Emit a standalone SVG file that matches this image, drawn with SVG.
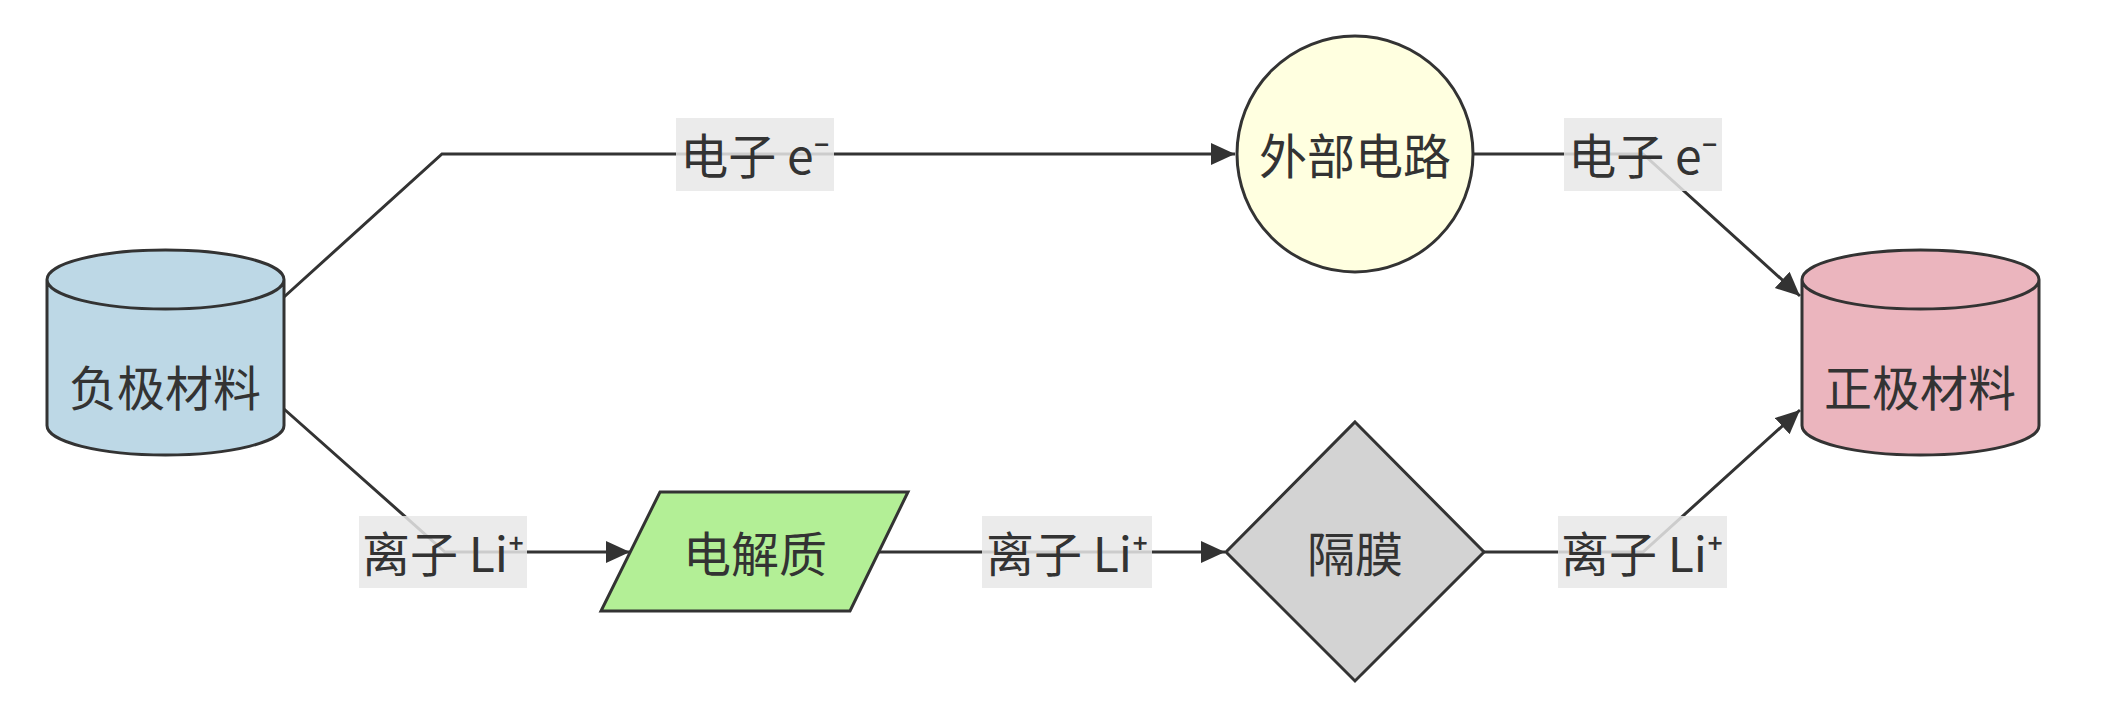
<svg xmlns="http://www.w3.org/2000/svg" width="2113" height="705" viewBox="0 0 2113 705">
<style>
.node{stroke:#333;stroke-width:3}
.edge{fill:none;stroke:#333;stroke-width:3}
.lbl{fill:#e8e8e8;fill-opacity:0.85}
text{font-family:"Noto Sans CJK SC","Noto Sans",sans-serif;font-size:48px;fill:#333;text-anchor:middle;dominant-baseline:central}
</style>
<defs>
<marker id="arr" markerUnits="userSpaceOnUse" markerWidth="26" markerHeight="24" refX="24" refY="11" orient="auto">
<path d="M0,0 L24,11 L0,22 z" fill="#333"/>
</marker>
</defs>
<rect width="2113" height="705" fill="#fff"/>
<g id="edges">
<path class="edge" d="M284,297 L442,154 L1235,154" marker-end="url(#arr)"/>
<path class="edge" d="M1473,154 L1643,154 L1800,296" marker-end="url(#arr)"/>
<path class="edge" d="M284,409 L445,552 L630,552" marker-end="url(#arr)"/>
<path class="edge" d="M879,552 L1225,552" marker-end="url(#arr)"/>
<path class="edge" d="M1484,552 L1643,552 L1800,410" marker-end="url(#arr)"/>
</g>
<g id="edge-labels">
<g id="label1"><rect class="lbl" x="676" y="118" width="158" height="73"/><text x="755" y="153">电子 e⁻</text></g>
<g id="label2"><rect class="lbl" x="1564" y="118" width="158" height="73"/><text x="1643" y="153">电子 e⁻</text></g>
<g id="label3"><rect class="lbl" x="359" y="516" width="168" height="72"/><text x="443" y="551">离子 Li⁺</text></g>
<g id="label4"><rect class="lbl" x="982" y="516" width="170" height="72"/><text x="1067" y="551">离子 Li⁺</text></g>
<g id="label5"><rect class="lbl" x="1558" y="516" width="169" height="72"/><text x="1642" y="551">离子 Li⁺</text></g>
</g>
<g id="anode">
<path class="node" fill="#bdd8e6" d="M47,279.5 a118.5,29.5 0 0 0 237,0 a118.5,29.5 0 0 0 -237,0 l0,146 a118.5,29.5 0 0 0 237,0 l0,-146"/>
<text x="165" y="385">负极材料</text>
</g>
<g id="circuit">
<circle class="node" fill="#ffffe0" cx="1355" cy="154" r="118"/>
<text x="1355" y="153">外部电路</text>
</g>
<g id="electrolyte">
<polygon class="node" fill="#b3ef96" points="660,492 908,492 850,611 601,611"/>
<text x="755" y="551">电解质</text>
</g>
<g id="separator">
<polygon class="node" fill="#d3d3d3" points="1355,422 1484,552 1355,681 1226,552"/>
<text x="1355" y="551">隔膜</text>
</g>
<g id="cathode">
<path class="node" fill="#ebb5be" d="M1802,279.5 a118.5,29.5 0 0 0 237,0 a118.5,29.5 0 0 0 -237,0 l0,146 a118.5,29.5 0 0 0 237,0 l0,-146"/>
<text x="1920" y="385">正极材料</text>
</g>
</svg>
